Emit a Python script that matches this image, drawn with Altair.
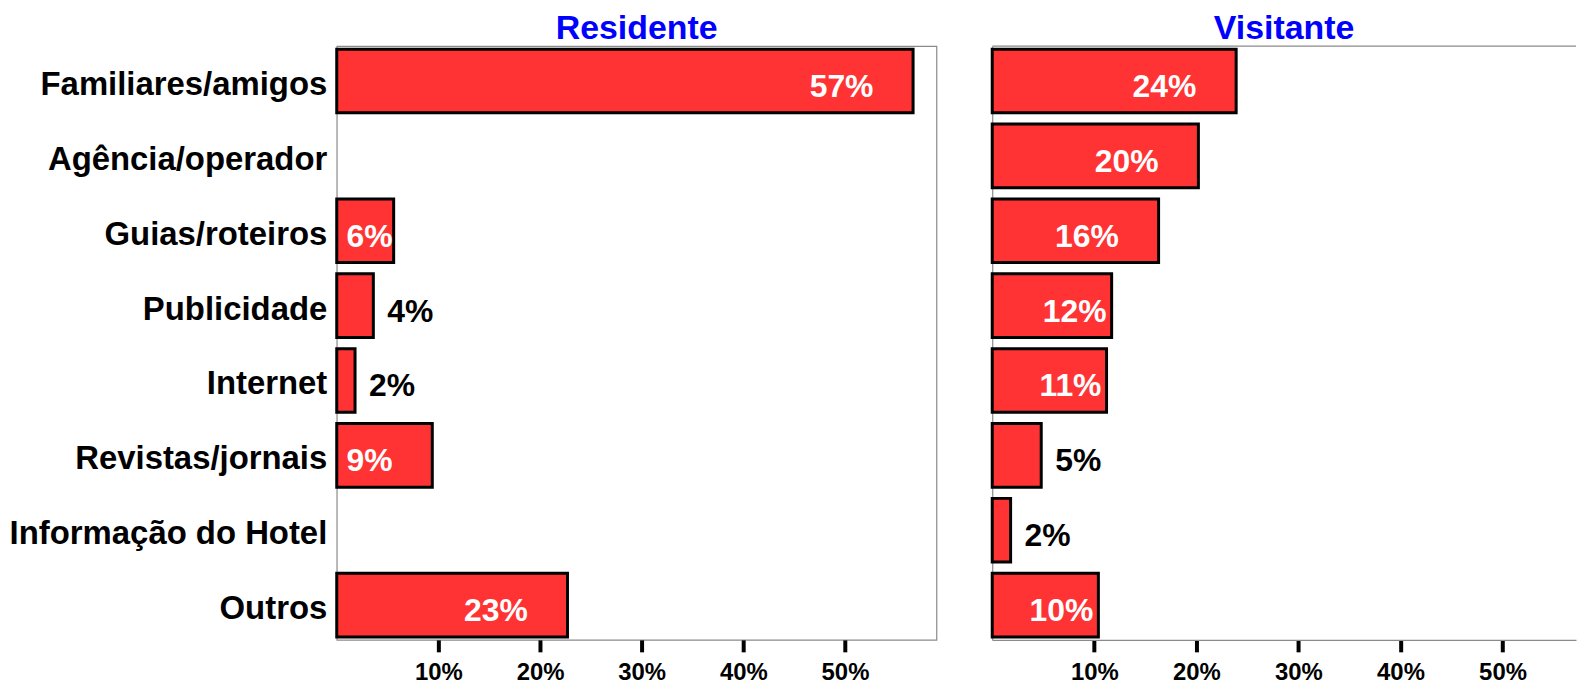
import altair as alt
import pandas as pd

categories = ["Familiares/amigos", "Agência/operador", "Guias/roteiros", "Publicidade",
              "Internet", "Revistas/jornais", "Informação do Hotel", "Outros"]
residente = [56.7, 0.0, 5.6, 3.6, 1.8, 9.4, 0.0, 22.7]
visitante = [23.9, 20.2, 16.3, 11.7, 11.2, 4.8, 1.8, 10.4]
tick_values = [10, 20, 30, 40, 50]

FONT = "Liberation Sans"
RED = "#FF3333"
BORDER = "#8a8a8a"


def label_pos(v):
    if v >= 13:
        return v - 3.9
    if v >= 10:
        return v - 0.5
    return 5.5


rows = []
for grp, vals in (("Residente", residente), ("Visitante", visitante)):
    for c, v in zip(categories, vals):
        rows.append({
            "group": grp, "category": c, "value": v,
            "label": f"{round(v):d}%",
            "inside": v > 5.2,
            "lx": label_pos(v) if v > 5.2 else v,
        })
df = pd.DataFrame(rows)


def panel(grp, xmax, width, show_labels):
    base = alt.Chart(df).transform_filter(alt.datum.group == grp)
    yscale = alt.Scale(domain=categories, paddingInner=0.15, paddingOuter=0.04)
    yenc = alt.Y(
        "category:N", scale=yscale,
        axis=alt.Axis(
            title=None, labels=show_labels, ticks=False,
            domain=not show_labels, domainColor=BORDER, domainWidth=1.2,
            labelFontSize=33, labelFont=FONT, labelFontWeight="bold",
            labelColor="black", labelPadding=10, labelLimit=400, labelOffset=4,
        ),
    )
    xscale = alt.Scale(domain=[0, xmax], nice=False, zero=True)
    xaxis = alt.Axis(
        title=None, values=tick_values, labelExpr="datum.value + '%'",
        ticks=True, tickSize=12, tickWidth=4, tickColor="black",
        domain=not show_labels, domainColor=BORDER, domainWidth=1.2,
        labelFontSize=24, labelFont=FONT, labelFontWeight="bold", labelColor="black",
        labelPadding=9, grid=False,
    )
    bars = base.transform_filter(alt.datum.value > 0).mark_bar(
        color=RED, stroke="black", strokeWidth=3
    ).encode(
        x=alt.X("value:Q", scale=xscale, axis=xaxis),
        y=yenc,
    )
    inside = base.transform_filter(alt.datum.inside).mark_text(
        align="right", baseline="middle", dy=6, color="white",
        font=FONT, fontWeight="bold", fontSize=32,
    ).encode(
        x=alt.X("lx:Q", scale=xscale),
        y=alt.Y("category:N", scale=yscale),
        text="label:N",
    )
    outside = base.transform_filter(
        (alt.datum.inside == False) & (alt.datum.value > 0)
    ).mark_text(
        align="left", baseline="middle", dx=14, dy=6, color="black",
        font=FONT, fontWeight="bold", fontSize=32,
    ).encode(
        x=alt.X("lx:Q", scale=xscale),
        y=alt.Y("category:N", scale=yscale),
        text="label:N",
    )
    layers = [bars, inside, outside]
    if not show_labels:
        top = alt.Chart(df).mark_rule(color=BORDER, strokeWidth=1.2).encode(
            x=alt.value(0), x2=alt.value(width), y=alt.value(0)
        ).transform_filter(alt.datum.category == categories[0]).transform_filter(
            alt.datum.group == grp)
        layers.append(top)
    ch = alt.layer(*layers).properties(
        width=width, height=596,
        title=alt.TitleParams(grp, color="#0000FF", fontSize=34, font=FONT,
                              fontWeight="bold", anchor="middle", offset=0),
    )
    if show_labels:
        ch = ch.properties(view=alt.ViewBackground(stroke=BORDER, strokeWidth=1.2))
    else:
        ch = ch.properties(view=alt.ViewBackground(strokeOpacity=0))
    return ch


left = panel("Residente", 59, 602, True)
right = panel("Visitante", 57.2, 586, False)

chart = alt.hconcat(left, right, spacing=53).properties(
    padding={"left": 0, "top": 2, "right": 0, "bottom": 0},
    background="white",
).configure_view(stroke=BORDER)

chart.save("out.html", embed_options={"renderer": "svg", "actions": False})
